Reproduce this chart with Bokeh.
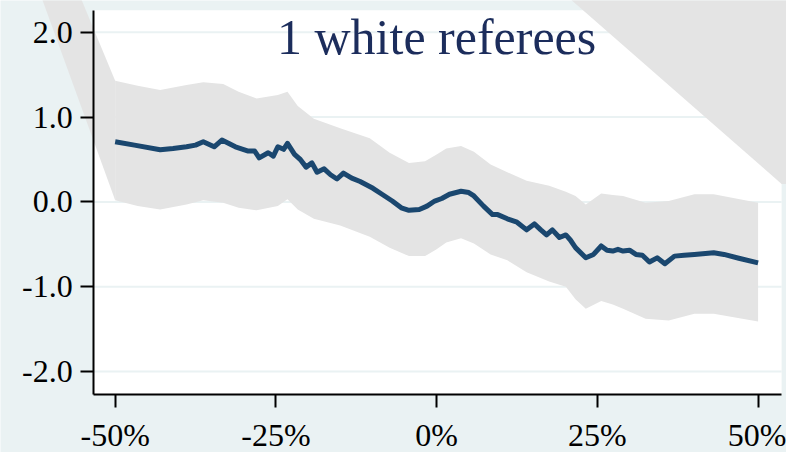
from bokeh.plotting import figure
from bokeh.models import Range1d, FixedTicker, CustomJSTickFormatter, Label
from bokeh.embed import file_html
from bokeh.resources import INLINE

# ---------------- data ----------------
title_text = "1 white referees"

line_x = [-50, -47, -43, -41, -38.9, -37.5, -36.3, -34.6, -33.4, -31.3, -29.3, -28.3,
          -27.6, -26.2, -25.4, -24.7, -23.8, -23.2, -22.1, -21.2, -20.3, -19.4, -18.6,
          -17.5, -16.5, -15.5, -14.5, -13.2, -11.9, -9.9, -8.5, -6.9, -5.5, -4.3, -2.7,
          -1.5, -0.3, 0.8, 2.0, 3.8, 5.0, 5.8, 7.3, 8.7, 9.5, 11.0, 12.5, 14.0, 15.2,
          16.2, 17.1, 18.0, 19.1, 20.1, 20.8, 21.6, 23.2, 24.4, 25.6, 26.5, 27.4, 28.2,
          29.0, 30.0, 31.0, 32.0, 33.1, 34.3, 35.5, 37.0, 38.5, 40.1, 43.1, 44.7, 47.0, 50.0]
line_y = [0.71, 0.67, 0.615, 0.63, 0.65, 0.67, 0.71, 0.65, 0.73, 0.65, 0.60, 0.60,
          0.52, 0.58, 0.54, 0.65, 0.62, 0.69, 0.56, 0.50, 0.41, 0.46, 0.35,
          0.39, 0.32, 0.27, 0.34, 0.28, 0.24, 0.16, 0.09, 0.01, -0.07, -0.10, -0.09,
          -0.05, 0.01, 0.04, 0.09, 0.125, 0.11, 0.07, -0.05, -0.15, -0.15, -0.20, -0.24, -0.33, -0.26,
          -0.33, -0.39, -0.33, -0.42, -0.39, -0.45, -0.54, -0.66, -0.62, -0.52, -0.57, -0.58, -0.56,
          -0.58, -0.57, -0.62, -0.63, -0.71, -0.66, -0.73, -0.64, -0.63, -0.62, -0.60, -0.62, -0.665, -0.72]

band_x = [-50, -46.5, -43, -38.9, -36.3, -33.2, -30.8, -28, -24.7, -23.2, -21.6, -19.1,
          -15, -10.4, -7.3, -4.3, -1.8, 0, 1.5, 3.8, 5.8, 8.4, 11, 14, 17.5, 20.1, 21.6,
          23.2, 25.6, 27.4, 29, 32.5, 36.1, 40.1, 43.1, 50]
band_hi = [1.43, 1.37, 1.32, 1.38, 1.41, 1.39, 1.30, 1.22, 1.26, 1.30, 1.13, 0.98,
           0.87, 0.75, 0.58, 0.46, 0.48, 0.56, 0.63, 0.66, 0.59, 0.44, 0.35, 0.25, 0.19, 0.12, 0.07,
           -0.03, 0.10, 0.08, 0.07, -0.01, 0.01, 0.09, 0.09, -0.01]
band_lo = [0.02, -0.05, -0.09, -0.03, 0.02, -0.01, -0.07, -0.10, -0.05, 0.03, -0.09, -0.20,
           -0.28, -0.41, -0.54, -0.64, -0.64, -0.56, -0.48, -0.43, -0.49, -0.62, -0.69, -0.83, -0.94, -1.00, -1.15,
           -1.26, -1.17, -1.21, -1.26, -1.38, -1.40, -1.32, -1.32, -1.41]

x_ticks = [-50, -25, 0, 25, 50]
y_ticks = [-2, -1, 0, 1, 2]

# spill-over artefacts of the shaded area (outside the plot region)
spill_left_x = [-55.81, -50, -50, -61.83]
spill_left_y = [2.49, 1.43, 0.02, 2.49]
spill_right_x = [19.32, 70, 70, 53.66]
spill_right_y = [2.49, 2.49, 0.211, 0.211]

# ---------------- style ----------------
BG = "#EAF2F3"
BAND = "#E4E4E4"
NAVY = "#1A476F"
TITLE = "#1C2D5C"
FONT = "Liberation Serif"

PA_X0, PA_X1 = -53.35, 53.66
PA_Y0, PA_Y1 = -2.274, 2.262

p = figure(width=786, height=452,
           x_range=Range1d(-67.836, 54.42), y_range=Range1d(-2.957, 2.376),
           output_backend="svg", toolbar_location=None, min_border=0,
           background_fill_color=BG, border_fill_color=BG, outline_line_color=None)

p.xgrid.visible = False
p.ygrid.visible = False

# white plot region
p.quad(left=[PA_X0], right=[PA_X1], bottom=[PA_Y0], top=[PA_Y1],
       fill_color="white", line_color=None)

# grid lines (plot region only)
p.segment(x0=[PA_X0] * len(y_ticks), x1=[PA_X1] * len(y_ticks), y0=y_ticks, y1=y_ticks,
          line_color=BG, line_width=2)

# confidence band
p.varea(x=band_x, y1=band_lo, y2=band_hi, fill_color=BAND)
p.patch(spill_left_x, spill_left_y, fill_color=BAND, line_color=None)
p.patch(spill_right_x, spill_right_y, fill_color=BAND, line_color=None)

# estimate
p.line(line_x, line_y, line_color=NAVY, line_width=5, line_join="round")

# title
p.add_layout(Label(x=0, y=1.94, text=title_text, text_align="center",
                   text_baseline="alphabetic", text_font=FONT,
                   text_font_size="50px", text_color=TITLE))

# axes
for ax in (p.xaxis, p.yaxis):
    ax.axis_line_color = "black"
    ax.axis_line_width = 2
    ax.major_tick_line_color = "black"
    ax.major_tick_line_width = 2
    ax.major_tick_out = 13
    ax.major_tick_in = 0
    ax.minor_tick_line_color = None
    ax.major_label_text_font = FONT
    ax.major_label_text_font_size = "32px"
    ax.major_label_text_color = "black"

p.xaxis.fixed_location = PA_Y0
p.xaxis.bounds = (PA_X0, PA_X1)
p.xaxis.ticker = FixedTicker(ticks=x_ticks)
p.xaxis.formatter = CustomJSTickFormatter(code="return tick.toFixed(0) + '%';")
p.xaxis.major_label_standoff = 9

p.yaxis.fixed_location = PA_X0
p.yaxis.bounds = (PA_Y0, PA_Y1)
p.yaxis.ticker = FixedTicker(ticks=y_ticks)
p.yaxis.formatter = CustomJSTickFormatter(code="return tick.toFixed(1);")
p.yaxis.major_label_standoff = 8

open("out.html", "w").write(file_html(p, INLINE))
